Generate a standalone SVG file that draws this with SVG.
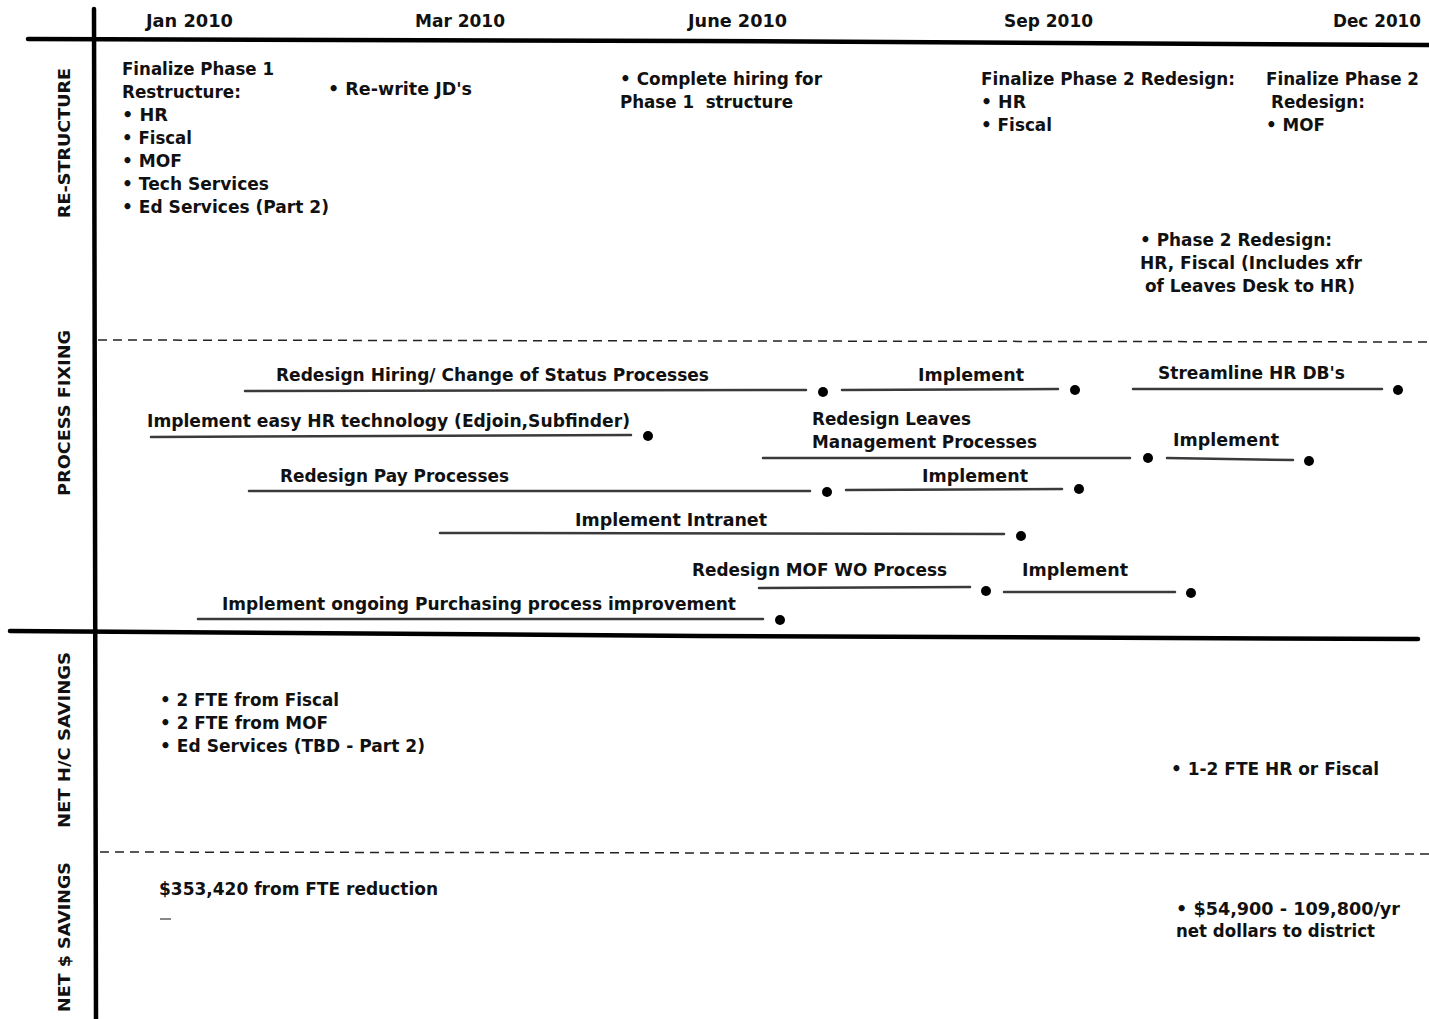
<svg xmlns="http://www.w3.org/2000/svg" width="1429" height="1019" viewBox="0 0 1429 1019">
<style>
.t{font-family:"DejaVu Sans",Verdana,sans-serif;font-weight:bold;font-size:17.5px;fill:#111;white-space:pre}
.r{font-family:"DejaVu Sans",Verdana,sans-serif;font-weight:bold;font-size:16px;fill:#111}
.bar{stroke:#3a3a3a;stroke-width:2.5;fill:none;stroke-linecap:round}
.dot{fill:#000}
.axis{stroke:#000;stroke-width:4.5;fill:none;stroke-linecap:round}
.dash{stroke:#222;stroke-width:1.5;stroke-dasharray:9,6;fill:none}
</style>
<rect width="1429" height="1019" fill="#fff"/>
<g id="axes">
<line class="axis" x1="94" y1="9" x2="96" y2="1019"/>
<path class="axis" d="M28,39 L700,41 L1429,45"/>
<path class="axis" d="M10,631 L700,636 L1418,639"/>
<line class="dash" x1="98" y1="340" x2="1429" y2="342"/>
<line class="dash" x1="100" y1="852" x2="1429" y2="854"/>
</g>
<g id="headers">
<text class="t" x="146" y="27" textLength="87" lengthAdjust="spacingAndGlyphs">Jan 2010</text>
<text class="t" x="415" y="27" textLength="90" lengthAdjust="spacingAndGlyphs">Mar 2010</text>
<text class="t" x="688" y="27" textLength="99" lengthAdjust="spacingAndGlyphs">June 2010</text>
<text class="t" x="1004" y="27" textLength="89" lengthAdjust="spacingAndGlyphs">Sep 2010</text>
<text class="t" x="1333" y="27" textLength="88" lengthAdjust="spacingAndGlyphs">Dec 2010</text>
</g>
<g id="row-labels">
<text class="r" transform="translate(70,143) rotate(-90)" text-anchor="middle" textLength="150" lengthAdjust="spacingAndGlyphs">RE-STRUCTURE</text>
<text class="r" transform="translate(70,413) rotate(-90)" text-anchor="middle" textLength="166" lengthAdjust="spacingAndGlyphs">PROCESS FIXING</text>
<text class="r" transform="translate(70,740) rotate(-90)" text-anchor="middle" textLength="176" lengthAdjust="spacingAndGlyphs">NET H/C SAVINGS</text>
<text class="r" transform="translate(70,937) rotate(-90)" text-anchor="middle" textLength="150" lengthAdjust="spacingAndGlyphs">NET $ SAVINGS</text>
</g>
<g id="restructure-phase1">
<text class="t" x="122" y="75" textLength="152" lengthAdjust="spacingAndGlyphs">Finalize Phase 1</text>
<text class="t" x="122" y="98" textLength="119" lengthAdjust="spacingAndGlyphs">Restructure:</text>
<text class="t" x="122" y="121" textLength="46" lengthAdjust="spacingAndGlyphs">• HR</text>
<text class="t" x="122" y="144" textLength="70" lengthAdjust="spacingAndGlyphs">• Fiscal</text>
<text class="t" x="122" y="167" textLength="60" lengthAdjust="spacingAndGlyphs">• MOF</text>
<text class="t" x="122" y="190" textLength="147" lengthAdjust="spacingAndGlyphs">• Tech Services</text>
<text class="t" x="122" y="213" textLength="207" lengthAdjust="spacingAndGlyphs">• Ed Services (Part 2)</text>
</g>
<g id="rewrite-jds">
<text class="t" x="328" y="95" textLength="144" lengthAdjust="spacingAndGlyphs">• Re-write JD's</text>
</g>
<g id="complete-hiring">
<text class="t" x="620" y="85" textLength="202" lengthAdjust="spacingAndGlyphs">• Complete hiring for</text>
<text class="t" x="620" y="108" textLength="173" lengthAdjust="spacingAndGlyphs" xml:space="preserve">Phase 1  structure</text>
</g>
<g id="finalize-phase2-hr-fiscal">
<text class="t" x="981" y="85" textLength="254" lengthAdjust="spacingAndGlyphs">Finalize Phase 2 Redesign:</text>
<text class="t" x="981" y="108" textLength="45" lengthAdjust="spacingAndGlyphs">• HR</text>
<text class="t" x="981" y="131" textLength="71" lengthAdjust="spacingAndGlyphs">• Fiscal</text>
</g>
<g id="finalize-phase2-mof">
<text class="t" x="1266" y="85" textLength="153" lengthAdjust="spacingAndGlyphs">Finalize Phase 2</text>
<text class="t" x="1271" y="108" textLength="94" lengthAdjust="spacingAndGlyphs">Redesign:</text>
<text class="t" x="1266" y="131" textLength="59" lengthAdjust="spacingAndGlyphs">• MOF</text>
</g>
<g id="phase2-redesign">
<text class="t" x="1140" y="246" textLength="192" lengthAdjust="spacingAndGlyphs">• Phase 2 Redesign:</text>
<text class="t" x="1140" y="269" textLength="222" lengthAdjust="spacingAndGlyphs">HR, Fiscal (Includes xfr</text>
<text class="t" x="1145" y="292" textLength="210" lengthAdjust="spacingAndGlyphs">of Leaves Desk to HR)</text>
</g>
<g id="connectors">
<path class="bar" d="M245,391 L806,390"/>
<path class="bar" d="M842,390 L1058,389"/>
<path class="bar" d="M1133,389 L1382,389"/>
<path class="bar" d="M151,437 L631,435"/>
<path class="bar" d="M763,458 L1130,458"/>
<path class="bar" d="M1167,458 L1293,460"/>
<path class="bar" d="M249,491 L810,491"/>
<path class="bar" d="M846,490 L1062,489"/>
<path class="bar" d="M440,533 L1004,534"/>
<path class="bar" d="M759,588 L970,587"/>
<path class="bar" d="M1004,592 L1175,592"/>
<path class="bar" d="M198,619 L763,619"/>
<line x1="160" y1="919" x2="171" y2="919" stroke="#888" stroke-width="2"/>
</g>
<g id="redesign-hiring">
<text class="t" x="276" y="381" textLength="433" lengthAdjust="spacingAndGlyphs">Redesign Hiring/ Change of Status Processes</text>
<circle class="dot" cx="823" cy="392" r="5"/>
</g>
<g id="implement-hiring">
<text class="t" x="918" y="381" textLength="106" lengthAdjust="spacingAndGlyphs">Implement</text>
<circle class="dot" cx="1075" cy="390" r="5"/>
</g>
<g id="streamline-hr">
<text class="t" x="1158" y="379" textLength="187" lengthAdjust="spacingAndGlyphs">Streamline HR DB's</text>
<circle class="dot" cx="1398" cy="390" r="5"/>
</g>
<g id="easy-hr-tech">
<text class="t" x="147" y="427" textLength="483" lengthAdjust="spacingAndGlyphs">Implement easy HR technology (Edjoin,Subfinder)</text>
<circle class="dot" cx="648" cy="436" r="5"/>
</g>
<g id="redesign-leaves">
<text class="t" x="812" y="425" textLength="159" lengthAdjust="spacingAndGlyphs">Redesign Leaves</text>
<text class="t" x="812" y="448" textLength="225" lengthAdjust="spacingAndGlyphs">Management Processes</text>
<circle class="dot" cx="1148" cy="458" r="5"/>
</g>
<g id="implement-leaves">
<text class="t" x="1173" y="446" textLength="106" lengthAdjust="spacingAndGlyphs">Implement</text>
<circle class="dot" cx="1309" cy="461" r="5"/>
</g>
<g id="redesign-pay">
<text class="t" x="280" y="482" textLength="229" lengthAdjust="spacingAndGlyphs">Redesign Pay Processes</text>
<circle class="dot" cx="827" cy="492" r="5"/>
</g>
<g id="implement-pay">
<text class="t" x="922" y="482" textLength="106" lengthAdjust="spacingAndGlyphs">Implement</text>
<circle class="dot" cx="1079" cy="489" r="5"/>
</g>
<g id="intranet">
<text class="t" x="575" y="526" textLength="192" lengthAdjust="spacingAndGlyphs">Implement Intranet</text>
<circle class="dot" cx="1021" cy="536" r="5"/>
</g>
<g id="redesign-mof-wo">
<text class="t" x="692" y="576" textLength="255" lengthAdjust="spacingAndGlyphs">Redesign MOF WO Process</text>
<circle class="dot" cx="986" cy="591" r="5"/>
</g>
<g id="implement-mof-wo">
<text class="t" x="1022" y="576" textLength="106" lengthAdjust="spacingAndGlyphs">Implement</text>
<circle class="dot" cx="1191" cy="593" r="5"/>
</g>
<g id="purchasing">
<text class="t" x="222" y="610" textLength="514" lengthAdjust="spacingAndGlyphs">Implement ongoing Purchasing process improvement</text>
<circle class="dot" cx="780" cy="620" r="5"/>
</g>
<g id="hc-savings-1">
<text class="t" x="160" y="706" textLength="179" lengthAdjust="spacingAndGlyphs">• 2 FTE from Fiscal</text>
<text class="t" x="160" y="729" textLength="168" lengthAdjust="spacingAndGlyphs">• 2 FTE from MOF</text>
<text class="t" x="160" y="752" textLength="265" lengthAdjust="spacingAndGlyphs">• Ed Services (TBD - Part 2)</text>
</g>
<g id="hc-savings-2">
<text class="t" x="1171" y="775" textLength="208" lengthAdjust="spacingAndGlyphs">• 1-2 FTE HR or Fiscal</text>
</g>
<g id="dollar-savings-1">
<text class="t" x="159" y="895" textLength="279" lengthAdjust="spacingAndGlyphs">$353,420 from FTE reduction</text>
</g>
<g id="dollar-savings-2">
<text class="t" x="1176" y="915" textLength="224" lengthAdjust="spacingAndGlyphs">• $54,900 - 109,800/yr</text>
<text class="t" x="1176" y="937" textLength="199" lengthAdjust="spacingAndGlyphs">net dollars to district</text>
</g>
</svg>
